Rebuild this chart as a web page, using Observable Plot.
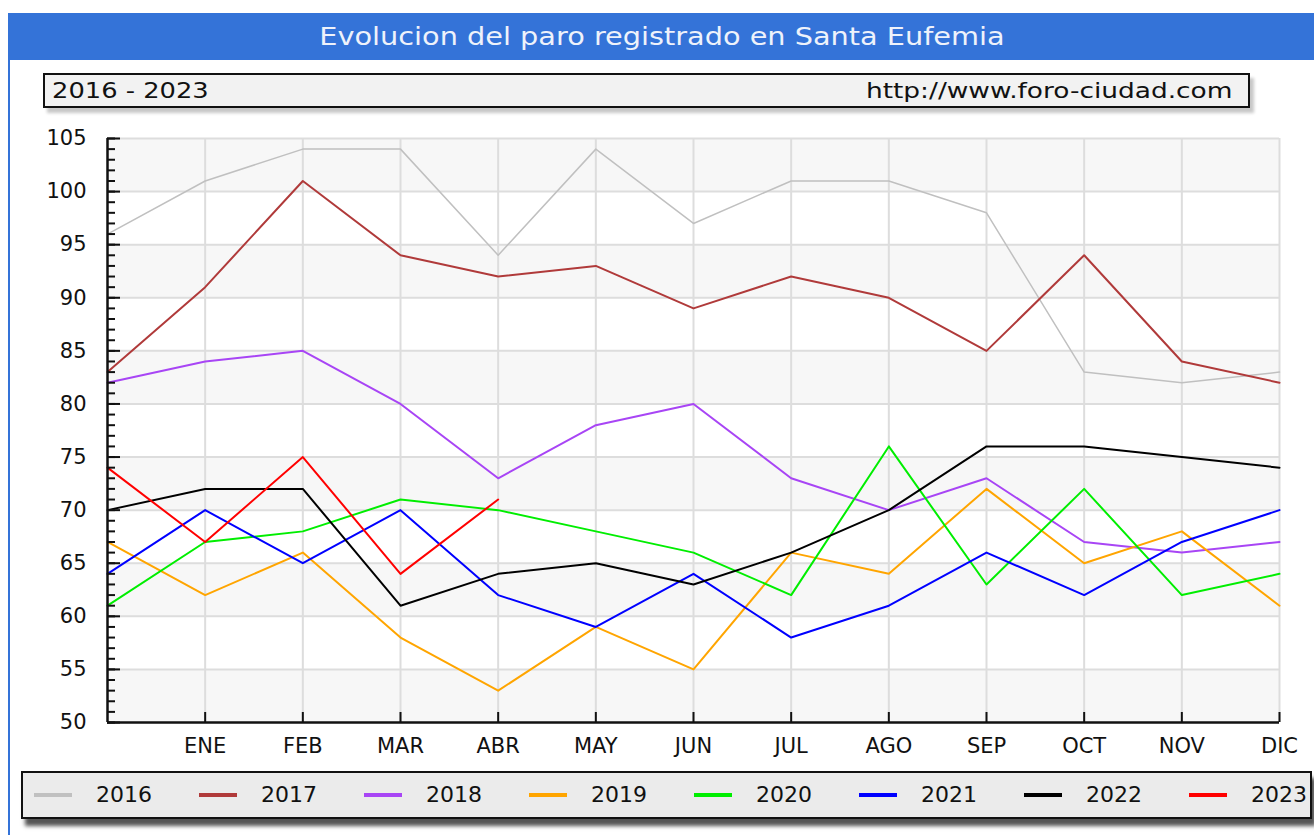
<!DOCTYPE html>
<html>
<head>
<meta charset="utf-8">
<script src="https://cdn.jsdelivr.net/npm/d3@7"></script>
<script src="https://cdn.jsdelivr.net/npm/@observablehq/plot@0.6"></script>
<style>
  html, body { margin: 0; padding: 0; background: #fff; width: 1314px; height: 835px; overflow: hidden; font-family: "DejaVu Sans", Verdana, sans-serif; }
  #frame { position: absolute; left: 8px; top: 13px; width: 1400px; height: 900px; border-left: 2px solid #3473d8; }
  #title { position: absolute; left: 10px; top: 13px; width: 1304px; height: 47px; background: #3473d8; color: #eef2fb; font-size: 25px; line-height: 47px; text-align: center; }
  #title span { display: inline-block; transform: scaleX(1.15); transform-origin: center; }
  #sub { position: absolute; left: 43px; top: 73px; width: 1203px; height: 31px; background: #f2f2f2; border: 2px solid #111; box-shadow: 4px 5px 3px #c8c8c8; font-size: 22px; line-height: 31px; color: #111; }
  #sub .l { position: absolute; left: 7px; transform: scaleX(1.17); transform-origin: left center; }
  #sub .r { position: absolute; right: 16px; transform: scaleX(1.2); transform-origin: right center; }
  #chart { position: absolute; left: 0; top: 120px; }
  #legend { position: absolute; left: 21px; top: 771px; width: 1287px; height: 44px; background: #ebebeb; border: 2px solid #111; box-shadow: 4px 7px 4px #555; }
  .item { position: absolute; top: 0; height: 44px; }
  .sw { position: absolute; left: 0; top: 20px; width: 38px; height: 4px; }
  .lab { position: absolute; left: 62px; top: 0; line-height: 44px; font-size: 22px; color: #111; }
</style>
</head>
<body>
<div id="frame"></div>
<div id="title"><span>Evolucion del paro registrado en Santa Eufemia</span></div>
<div id="sub"><span class="l">2016 - 2023</span><span class="r">http://www.foro-ciudad.com</span></div>
<div id="chart"></div>
<div id="legend"></div>
<script>
const months = ["ENE","FEB","MAR","ABR","MAY","JUN","JUL","AGO","SEP","OCT","NOV","DIC"];
const years = ["2016","2017","2018","2019","2020","2021","2022","2023"];
const colors = ["#c0c0c0","#b03a3a","#a845f5","#ffa500","#00ee00","#0000ff","#000000","#ff0000"];
// index 0 = previous December, then ENE..DIC
const v2016 = [96,101,104,104,94,104,97,101,101,98,83,82,83];
const v2017 = [83,91,101,94,92,93,89,92,90,85,94,84,82];
const v2018 = [82,84,85,80,73,78,80,73,70,73,67,66,67];
const v2019 = [67,62,66,58,53,59,55,66,64,72,65,68,61];
const v2020 = [61,67,68,71,70,68,66,62,76,63,72,62,64];
const v2021 = [64,70,65,70,62,59,64,58,61,66,62,67,70];
const v2022 = [70,72,72,61,64,65,63,66,70,76,76,75,74];
const v2023 = [74,67,75,64,71];
const yTicks = [50,55,60,65,70,75,80,85,90,95,100,105];

const series = [v2016,v2017,v2018,v2019,v2020,v2021,v2022,v2023];
const data = [];
series.forEach((arr, k) => arr.forEach((v, i) => data.push({year: years[k], i, v})));
const bands = yTicks.slice(0, -1).map((t, j) => ({y1: t, y2: yTicks[j + 1], shade: j % 2 === 0}));
const monthIdx = months.map((m, j) => j + 1);
const minor = d3.range(50, 106);

const font = "DejaVu Sans, Verdana, sans-serif";
const chart = Plot.plot({
  width: 1314,
  height: 640,
  marginLeft: 107,
  marginRight: 35,
  marginTop: 18,
  marginBottom: 38,
  style: {fontFamily: font, fontSize: "21px", color: "#111", background: "transparent", overflow: "visible"},
  x: {type: "linear", domain: [0, 12], axis: null},
  y: {domain: [50, 105], axis: null},
  color: {domain: years, range: colors},
  marks: [
    Plot.rect(bands.filter(b => b.shade), {x1: 0, x2: 12, y1: "y1", y2: "y2", fill: "#f7f7f7"}),
    Plot.ruleY(yTicks.slice(1), {stroke: "#dddddd", strokeWidth: 2}),
    Plot.ruleX(monthIdx, {stroke: "#dddddd", strokeWidth: 2}),
    ...years.map(y => Plot.line(data.filter(d => d.year === y), {
      x: "i", y: "v", stroke: "year", strokeWidth: y === "2016" ? 1.5 : 2
    })),
    Plot.axisY({ticks: minor, tickSize: -8, tickFormat: () => "", label: null, stroke: "#111", strokeWidth: 2}),
    Plot.axisY({ticks: yTicks, tickSize: -13, tickFormat: () => "", label: null, stroke: "#111", strokeWidth: 2}),
    Plot.axisY({ticks: yTicks, tickSize: 0, tickPadding: 21, label: null, fontSize: 21, fill: "#111"}),
    Plot.axisX({ticks: monthIdx, tickSize: -10, tickFormat: () => "", label: null, stroke: "#111", strokeWidth: 2}),
    Plot.axisX({ticks: monthIdx, tickSize: 0, tickPadding: 16, tickFormat: i => months[i - 1], label: null, fontSize: 21, fill: "#111"}),
    Plot.ruleX([0], {stroke: "#111", strokeWidth: 2.5}),
    Plot.ruleY([50], {stroke: "#111", strokeWidth: 2.5})
  ]
});
document.getElementById("chart").appendChild(chart);

const legend = document.getElementById("legend");
years.forEach((y, k) => {
  const it = document.createElement("div");
  it.className = "item";
  it.style.left = (11 + k * 165) + "px";
  const sw = document.createElement("div");
  sw.className = "sw";
  sw.style.background = colors[k];
  const lab = document.createElement("div");
  lab.className = "lab";
  lab.textContent = y;
  it.appendChild(sw);
  it.appendChild(lab);
  legend.appendChild(it);
});
</script>
</body>
</html>
